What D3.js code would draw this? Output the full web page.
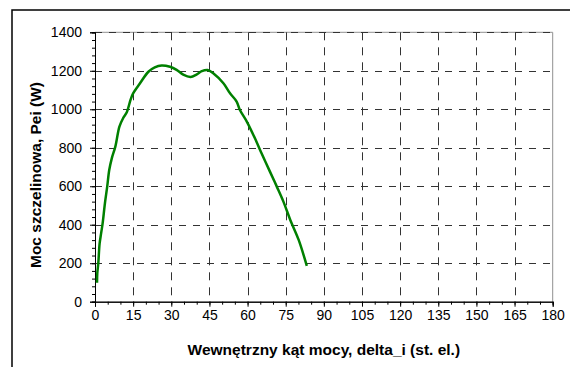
<!DOCTYPE html>
<html><head><meta charset="utf-8">
<script src="https://cdn.jsdelivr.net/npm/d3@7"></script>
<style>body{margin:0;background:#fff}svg{display:block}text{font-family:"Liberation Sans",Arial,sans-serif}</style>
</head><body>
<script>
const angles = [0.8,0.9,1.3,1.8,2.4,3.0,3.9,4.8,5.6,6.6,8.0,9.6,11.1,12.5,14.0,15.0,17.7,21.0,23.5,26.2,29.5,32.1,34.7,37.6,39.9,42.0,44.3,46.5,50.5,53.1,55.7,57.0,59.7,62.9,65.5,68.8,71.5,74.1,76.8,80.1,83.3];
const power  = [99,148,200,300,355,407,511,598,684,745,806,910,955,985,1050,1083,1135,1195,1218,1228,1221,1205,1180,1168,1180,1198,1204,1187,1135,1083,1040,996,936,849,771,676,598,520,425,321,186];
const xTicks = [0,15,30,45,60,75,90,105,120,135,150,165,180];
const yTicks = [0,200,400,600,800,1000,1200,1400];
const xTitle = "Wewnętrzny kąt mocy, delta_i (st. el.)";
const yTitle = "Moc szczelinowa, Pei (W)";

const W = 570, H = 367;
const m = {l:95, r:552.7, t:32.3, b:301.7};
const svg = d3.select("body").append("svg").attr("width",W).attr("height",H);
svg.append("rect").attr("width",W).attr("height",H).attr("fill","#fff");
svg.append("rect").attr("x",12).attr("y",10).attr("width",700).attr("height",500)
  .attr("fill","none").attr("stroke","#000").attr("stroke-width",1.5);

const x = d3.scaleLinear().domain([0,180]).range([m.l,m.r]);
const y = d3.scaleLinear().domain([0,1400]).range([m.b,m.t]);

// plot border (gray)
svg.append("path").attr("d",`M${m.l},${m.t}H${m.r}V${m.b}`).attr("fill","none").attr("stroke","#909090").attr("stroke-width",1);

// grid
const g = svg.append("g");
g.selectAll(".hg").data(yTicks.filter(d=>d>0)).join("line")
  .attr("x1",m.l).attr("x2",m.r).attr("y1",d=>Math.round(y(d))+0.5).attr("y2",d=>Math.round(y(d))+0.5)
  .attr("stroke","#333").attr("stroke-width",1).attr("stroke-dasharray","7,7");
g.selectAll(".vg").data(xTicks.filter(d=>d>0 && d<180)).join("line")
  .attr("y1",m.t).attr("y2",m.b).attr("x1",d=>Math.round(x(d))+0.5).attr("x2",d=>Math.round(x(d))+0.5)
  .attr("stroke","#333").attr("stroke-width",1).attr("stroke-dasharray","8,7");

// axes
const xAxis = d3.axisBottom(x).tickValues(xTicks).tickSize(5).tickPadding(3).tickFormat(d3.format("d"));
const xMinor = d3.axisBottom(x).tickValues(d3.range(0,181,5)).tickSize(3).tickFormat("");
const yAxis = d3.axisLeft(y).tickValues(yTicks).tickSize(5).tickPadding(8).tickFormat(d3.format("d"));
const yMinor = d3.axisLeft(y).tickValues(d3.range(0,1401,40)).tickSize(3).tickFormat("");

function style(sel){
  sel.select(".domain").attr("stroke","#000");
  sel.selectAll(".tick line").attr("stroke","#000");
  sel.selectAll("text").attr("font-size",14).attr("fill","#000").attr("font-family","Liberation Sans, Arial, sans-serif");
}
svg.append("g").attr("transform",`translate(0,${m.b})`).call(xMinor).call(style);
svg.append("g").attr("transform",`translate(0,${m.b})`).call(xAxis).call(style);
svg.append("g").attr("transform",`translate(${m.l},0)`).call(yMinor).call(style);
svg.append("g").attr("transform",`translate(${m.l},0)`).call(yAxis).call(style);

// line
const pts = angles.map((a,i)=>[a,power[i]]);
svg.append("path").datum(pts)
  .attr("d",d3.line().x(d=>x(d[0])).y(d=>y(d[1])).curve(d3.curveCatmullRom.alpha(0.5)))
  .attr("fill","none").attr("stroke","#008000").attr("stroke-width",2.5).attr("stroke-linejoin","round");

// titles
svg.append("text").attr("x",(m.l+m.r)/2).attr("y",355).attr("text-anchor","middle")
  .attr("font-size",15.5).attr("font-weight","bold").text(xTitle);
svg.append("text").attr("transform",`translate(41,175) rotate(-90)`).attr("text-anchor","middle")
  .attr("font-size",15.5).attr("font-weight","bold").text(yTitle);
</script>
</body></html>
